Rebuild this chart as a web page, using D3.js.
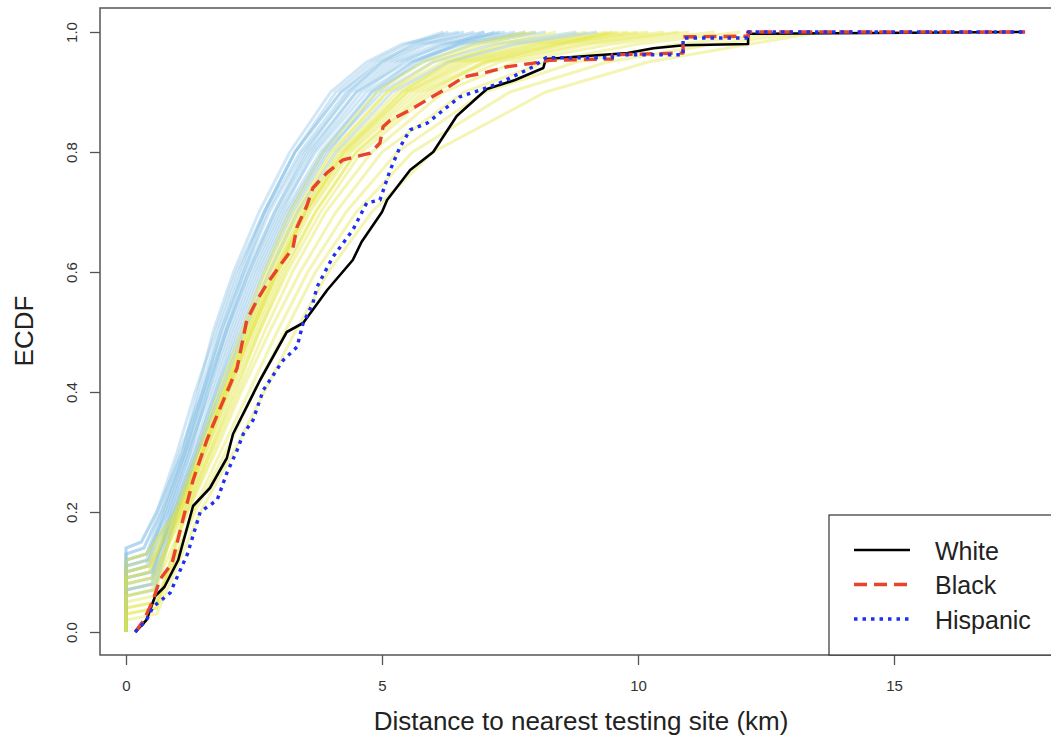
<!DOCTYPE html>
<html>
<head>
<meta charset="utf-8">
<script src="https://cdn.jsdelivr.net/npm/d3@7"></script>
<style>
  body { margin: 0; background: #fff; }
  svg { display: block; font-family: "Liberation Sans", Arial, sans-serif; }
</style>
</head>
<body>
<div id="chart-area"><svg></svg></div>
<script>
const xTicks = [0, 5, 10, 15];
const yTicks = [0, 0.2, 0.4, 0.6, 0.8, 1.0];
const legendLabels = ["White", "Black", "Hispanic"];

const whiteCurve = [[0.18,0],[0.4,0.02],[0.57,0.06],[0.75,0.075],[1.02,0.12],[1.31,0.21],[1.64,0.24],[1.97,0.29],[2.09,0.33],
  [2.62,0.42],[3.14,0.5],[3.46,0.515],[3.93,0.57],[4.43,0.62],[4.6,0.65],[5.0,0.7],[5.1,0.72],[5.55,0.77],[6.0,0.8],
  [6.46,0.86],[6.85,0.89],[7.05,0.905],[7.6,0.92],[8.15,0.94],[8.2,0.955],[9.8,0.965],[10.3,0.973],[10.9,0.978],
  [12.15,0.98],[12.15,0.997],[17.56,1]];
const blackCurve = [[0.18,0],[0.35,0.02],[0.53,0.053],[0.66,0.087],[0.9,0.115],[1.11,0.187],[1.31,0.253],[1.58,0.32],
  [1.7,0.345],[2.17,0.44],[2.36,0.52],[2.56,0.553],[2.75,0.58],[3.0,0.61],[3.26,0.64],[3.34,0.675],[3.53,0.71],[3.65,0.74],
  [3.92,0.765],[4.24,0.787],[4.77,0.798],[4.96,0.815],[5.02,0.842],[5.16,0.853],[5.55,0.87],[5.88,0.887],[6.2,0.903],
  [6.6,0.925],[7.05,0.933],[7.44,0.942],[7.95,0.948],[8.28,0.953],[9.5,0.955],[9.5,0.962],[10.88,0.965],[10.88,0.992],
  [12.15,0.993],[12.15,1],[17.56,1]];
const hispanicCurve = [[0.18,0],[0.4,0.02],[0.53,0.042],[0.86,0.065],[1.2,0.13],[1.45,0.2],[1.78,0.22],[1.97,0.265],
  [2.17,0.303],[2.29,0.33],[2.48,0.353],[2.68,0.403],[3.07,0.453],[3.34,0.475],[3.46,0.515],[3.65,0.548],[3.73,0.575],
  [4.04,0.625],[4.43,0.67],[4.7,0.715],[4.96,0.72],[5.16,0.77],[5.35,0.808],[5.55,0.837],[5.88,0.848],[6.2,0.87],
  [6.52,0.892],[6.91,0.903],[7.3,0.915],[7.95,0.942],[8.2,0.957],[9.5,0.957],[9.5,0.962],[10.88,0.962],[10.88,0.99],
  [12.15,0.99],[12.15,1],[17.56,1]];

// simulated ECDFs in the background (blue and yellow bundles)
const blueSims = [
  [[0,0],[0,0.14],[0.3,0.15],[0.6,0.2],[1.1,0.3],[1.4,0.4],[1.7,0.5],[2.1,0.6],[2.6,0.7],[3.2,0.8],[4.0,0.9],[4.7,0.95],[5.4,0.98],[6.5,1]],
  [[0,0],[0,0.12],[0.4,0.13],[0.7,0.2],[1.1,0.3],[1.45,0.4],[1.8,0.5],[2.2,0.6],[2.7,0.7],[3.3,0.8],[4.2,0.9],[5.0,0.95],[5.8,0.98],[7.0,1]],
  [[0,0],[0,0.1],[0.4,0.11],[0.75,0.2],[1.15,0.3],[1.5,0.4],[1.85,0.5],[2.3,0.6],[2.8,0.7],[3.45,0.8],[4.4,0.9],[5.2,0.95],[6.1,0.98],[7.3,1]],
  [[0,0],[0,0.11],[0.45,0.12],[0.8,0.2],[1.2,0.3],[1.55,0.4],[1.95,0.5],[2.35,0.6],[2.9,0.7],[3.55,0.8],[4.5,0.9],[5.3,0.95],[6.3,0.98],[7.6,1]],
  [[0,0],[0,0.08],[0.5,0.09],[0.85,0.2],[1.25,0.3],[1.6,0.4],[2.0,0.5],[2.45,0.6],[3.0,0.7],[3.7,0.8],[4.7,0.9],[5.6,0.95],[6.5,0.98],[8.0,1]],
  [[0,0],[0,0.13],[0.35,0.14],[0.65,0.2],[1.05,0.3],[1.5,0.4],[1.9,0.5],[2.3,0.6],[2.75,0.7],[3.4,0.8],[4.3,0.9],[5.1,0.95],[5.9,0.98],[6.8,1]],
  [[0,0],[0,0.09],[0.5,0.1],[0.9,0.2],[1.3,0.3],[1.7,0.4],[2.1,0.5],[2.55,0.6],[3.1,0.7],[3.8,0.8],[4.8,0.9],[5.8,0.95],[6.8,0.98],[8.2,1]],
  [[0,0],[0,0.12],[0.4,0.13],[0.8,0.2],[1.2,0.3],[1.65,0.4],[2.05,0.5],[2.5,0.6],[3.05,0.7],[3.65,0.8],[4.6,0.9],[5.4,0.95],[6.2,0.98],[7.4,1]],
  [[0,0],[0,0.07],[0.55,0.08],[0.95,0.2],[1.35,0.3],[1.75,0.4],[2.2,0.5],[2.65,0.6],[3.2,0.7],[3.9,0.8],[5.0,0.9],[6.0,0.95],[7.2,0.98],[8.8,1]],
  [[0,0],[0,0.1],[0.45,0.11],[0.85,0.2],[1.25,0.3],[1.6,0.4],[1.95,0.5],[2.4,0.6],[2.95,0.7],[3.6,0.8],[4.5,0.9],[5.5,0.95],[6.6,0.98],[7.8,1]],
  [[0,0],[0,0.14],[0.3,0.15],[0.6,0.2],[1.0,0.3],[1.35,0.4],[1.75,0.5],[2.15,0.6],[2.7,0.7],[3.3,0.8],[4.2,0.9],[4.9,0.95],[5.7,0.98],[6.6,1]],
  [[0,0],[0,0.06],[0.55,0.07],[1.0,0.2],[1.4,0.3],[1.85,0.4],[2.3,0.5],[2.8,0.6],[3.35,0.7],[4.1,0.8],[5.2,0.9],[6.3,0.95],[7.6,0.98],[9.2,1]],
  [[0,0],[0,0.13],[0.35,0.14],[0.7,0.2],[1.15,0.3],[1.55,0.4],[1.95,0.5],[2.4,0.6],[2.9,0.7],[3.5,0.8],[4.35,0.9],[5.0,0.95],[5.6,0.98],[6.3,1]],
  [[0,0],[0,0.09],[0.5,0.1],[0.95,0.2],[1.4,0.3],[1.8,0.4],[2.25,0.5],[2.7,0.6],[3.25,0.7],[3.95,0.8],[4.9,0.9],[5.7,0.95],[6.5,0.98],[7.2,1]],
  [[0,0],[0,0.11],[0.4,0.12],[0.75,0.2],[1.15,0.3],[1.5,0.4],[1.85,0.5],[2.25,0.6],[2.7,0.7],[3.3,0.8],[4.1,0.9],[4.8,0.95],[5.5,0.98],[6.2,1]],
  [[0,0],[0,0.07],[0.5,0.08],[0.9,0.2],[1.35,0.3],[1.75,0.4],[2.15,0.5],[2.6,0.6],[3.15,0.7],[3.85,0.8],[4.8,0.9],[5.6,0.95],[6.4,0.98],[7.0,1]]
];
const yellowSims = [
  [[0,0],[0,0.05],[0.55,0.06],[1.0,0.2],[1.45,0.3],[1.9,0.4],[2.35,0.5],[2.85,0.6],[3.4,0.7],[4.2,0.8],[5.4,0.9],[6.5,0.95],[8.0,0.98],[9.8,1]],
  [[0,0],[0,0.08],[0.5,0.09],[1.05,0.2],[1.5,0.3],[1.95,0.4],[2.45,0.5],[2.95,0.6],[3.55,0.7],[4.35,0.8],[5.6,0.9],[6.8,0.95],[8.4,0.98],[10.2,1]],
  [[0,0],[0,0.1],[0.45,0.11],[1.1,0.2],[1.6,0.3],[2.05,0.4],[2.55,0.5],[3.05,0.6],[3.7,0.7],[4.5,0.8],[5.8,0.9],[7.1,0.95],[8.9,0.98],[10.8,1]],
  [[0,0],[0,0.04],[0.6,0.05],[1.2,0.2],[1.7,0.3],[2.2,0.4],[2.7,0.5],[3.25,0.6],[3.9,0.7],[4.8,0.8],[6.2,0.9],[7.6,0.95],[9.5,0.98],[11.5,1]],
  [[0,0],[0,0.12],[0.4,0.13],[0.95,0.2],[1.4,0.3],[1.85,0.4],[2.3,0.5],[2.75,0.6],[3.3,0.7],[4.0,0.8],[5.1,0.9],[6.2,0.95],[7.5,0.98],[9.0,1]],
  [[0,0],[0,0.03],[0.6,0.04],[1.3,0.2],[1.85,0.3],[2.4,0.4],[2.95,0.5],[3.55,0.6],[4.3,0.7],[5.3,0.8],[7.0,0.9],[8.8,0.95],[10.8,0.98],[13.0,1]],
  [[0,0],[0,0.07],[0.5,0.08],[1.1,0.2],[1.55,0.3],[2.0,0.4],[2.5,0.5],[3.0,0.6],[3.6,0.7],[4.4,0.8],[5.7,0.9],[7.0,0.95],[8.6,0.98],[10.5,1]],
  [[0,0],[0,0.02],[0.6,0.03],[1.45,0.2],[2.1,0.3],[2.7,0.4],[3.3,0.5],[3.95,0.6],[4.8,0.7],[6.0,0.8],[8.2,0.9],[10.2,0.95],[12.2,0.98],[13.6,1]],
  [[0,0],[0,0.09],[0.45,0.1],[1.0,0.2],[1.5,0.3],[1.95,0.4],[2.4,0.5],[2.9,0.6],[3.5,0.7],[4.25,0.8],[5.5,0.9],[6.6,0.95],[8.1,0.98],[9.6,1]],
  [[0,0],[0,0.06],[0.55,0.07],[1.2,0.2],[1.75,0.3],[2.25,0.4],[2.8,0.5],[3.4,0.6],[4.1,0.7],[5.0,0.8],[6.6,0.9],[8.2,0.95],[10.0,0.98],[12.0,1]],
  [[0,0],[0,0.11],[0.45,0.12],[1.0,0.2],[1.45,0.3],[1.9,0.4],[2.4,0.5],[2.9,0.6],[3.45,0.7],[4.15,0.8],[5.3,0.9],[6.4,0.95],[7.8,0.98],[9.4,1]],
  [[0,0],[0,0.04],[0.6,0.05],[1.35,0.2],[1.95,0.3],[2.5,0.4],[3.1,0.5],[3.7,0.6],[4.5,0.7],[5.6,0.8],[7.5,0.9],[9.4,0.95],[11.5,0.98],[13.4,1]],
  [[0,0],[0,0.08],[0.5,0.09],[1.15,0.2],[1.65,0.3],[2.15,0.4],[2.6,0.5],[3.15,0.6],[3.8,0.7],[4.6,0.8],[6.0,0.9],[7.3,0.95],[9.1,0.98],[11.0,1]],
  [[0,0],[0,0.1],[0.45,0.11],[1.05,0.2],[1.5,0.3],[1.95,0.4],[2.45,0.5],[2.95,0.6],[3.5,0.7],[4.3,0.8],[5.5,0.9],[6.7,0.95],[8.3,0.98],[10.0,1]],
  [[0,0],[0,0.09],[0.45,0.1],[0.95,0.2],[1.4,0.3],[1.8,0.4],[2.25,0.5],[2.7,0.6],[3.2,0.7],[3.85,0.8],[4.9,0.9],[5.8,0.95],[6.8,0.98],[7.8,1]],
  [[0,0],[0,0.06],[0.5,0.07],[1.05,0.2],[1.55,0.3],[2.0,0.4],[2.45,0.5],[2.95,0.6],[3.5,0.7],[4.25,0.8],[5.4,0.9],[6.3,0.95],[7.3,0.98],[8.4,1]],
  [[0,0],[0,0.12],[0.4,0.13],[1.0,0.2],[1.5,0.3],[1.9,0.4],[2.35,0.5],[2.8,0.6],[3.35,0.7],[4.05,0.8],[5.1,0.9],[6.0,0.95],[7.0,0.98],[8.0,1]],
  [[0,0],[0,0.03],[0.6,0.04],[1.15,0.2],[1.65,0.3],[2.1,0.4],[2.6,0.5],[3.1,0.6],[3.7,0.7],[4.5,0.8],[5.9,0.9],[7.0,0.95],[8.5,0.98],[9.5,1]]
];

const chartSize = { width: 1051, height: 738 };
const box = { left: 100, top: 8, right: 1070, bottom: 655 };

const x = d3.scaleLinear().domain([0, 15]).range([126, 894]);
const y = d3.scaleLinear().domain([0, 1]).range([632, 32]);

const svg = d3.select('#chart-area svg')
    .attr('width', chartSize.width)
    .attr('height', chartSize.height);

const line = d3.line().x(d => x(d[0])).y(d => y(d[1]));

// background simulations, blue and yellow interleaved so the overlap turns olive
const sims = svg.append('g').attr('class', 'sims');
const simRows = [];
blueSims.forEach((s, i) => {
    simRows.push({ values: s, color: '#86bfe6' });
    if (yellowSims[i]) simRows.push({ values: yellowSims[i], color: '#e2e43c' });
});
yellowSims.slice(blueSims.length).forEach(s => simRows.push({ values: s, color: '#e2e43c' }));

sims.selectAll('path')
    .data(simRows)
    .enter().append('path')
    .attr('d', d => line(d.values))
    .attr('fill', 'none')
    .attr('stroke', d => d.color)
    .attr('stroke-opacity', 0.38)
    .attr('stroke-width', 3);

// observed curves
const groups = [
    { name: 'White', values: whiteCurve, color: '#000000', dash: null, width: 2.6 },
    { name: 'Black', values: blackCurve, color: '#e8432b', dash: '13,7', width: 3.4 },
    { name: 'Hispanic', values: hispanicCurve, color: '#1f30ee', dash: '3.5,5', width: 3.4 }
];
svg.append('g').selectAll('path')
    .data(groups)
    .enter().append('path')
    .attr('d', d => line(d.values))
    .attr('fill', 'none')
    .attr('stroke', d => d.color)
    .attr('stroke-width', d => d.width)
    .attr('stroke-dasharray', d => d.dash)
    .attr('stroke-linejoin', 'round');

// axes
const xAxis = svg.append('g')
    .attr('transform', `translate(0,${box.bottom})`)
    .call(d3.axisBottom(x).tickValues(xTicks).tickSize(10).tickFormat(d3.format('d')));
xAxis.select('.domain').remove();
xAxis.selectAll('line').attr('stroke', '#555').attr('stroke-width', 1.3);
xAxis.selectAll('text')
    .attr('y', 36).attr('dy', 0)
    .attr('font-size', 15).attr('fill', '#333')
    .attr('font-family', '"Liberation Sans", Arial, sans-serif');

const yAxis = svg.append('g')
    .attr('transform', `translate(${box.left},0)`)
    .call(d3.axisLeft(y).tickValues(yTicks).tickSize(10).tickFormat(d3.format('.1f')));
yAxis.select('.domain').remove();
yAxis.selectAll('line').attr('stroke', '#555').attr('stroke-width', 1.3);
yAxis.selectAll('text')
    .attr('transform', 'rotate(-90)')
    .attr('x', 0).attr('y', -23).attr('dy', 0)
    .attr('text-anchor', 'middle')
    .attr('font-size', 15).attr('fill', '#333')
    .attr('font-family', '"Liberation Sans", Arial, sans-serif');

// plot box
svg.append('rect')
    .attr('x', box.left).attr('y', box.top)
    .attr('width', box.right - box.left).attr('height', box.bottom - box.top)
    .attr('fill', 'none').attr('stroke', '#555').attr('stroke-width', 1.5);

// axis titles
svg.append('text')
    .attr('x', 581).attr('y', 730)
    .attr('text-anchor', 'middle')
    .attr('font-size', 26).attr('fill', '#222')
    .text('Distance to nearest testing site (km)');
svg.append('text')
    .attr('transform', 'translate(33,331) rotate(-90)')
    .attr('text-anchor', 'middle')
    .attr('font-size', 26).attr('fill', '#222')
    .text('ECDF');

// legend
const legend = svg.append('g').attr('transform', 'translate(829,515)');
legend.append('rect')
    .attr('width', 260).attr('height', 140)
    .attr('fill', '#fff').attr('stroke', '#333').attr('stroke-width', 1.2);
const legendItems = legend.selectAll('.item')
    .data(legendLabels)
    .enter().append('g')
    .attr('class', 'item')
    .attr('transform', (d, i) => `translate(0,${35 + i * 34.5})`);
legendItems.append('line')
    .attr('x1', 25).attr('x2', 81)
    .attr('stroke', (d, i) => groups[i].color)
    .attr('stroke-width', (d, i) => groups[i].width)
    .attr('stroke-dasharray', (d, i) => groups[i].dash);
legendItems.append('text')
    .attr('x', 106).attr('y', 9.5)
    .attr('font-size', 25).attr('fill', '#222')
    .text(d => d);
</script>
</body>
</html>
